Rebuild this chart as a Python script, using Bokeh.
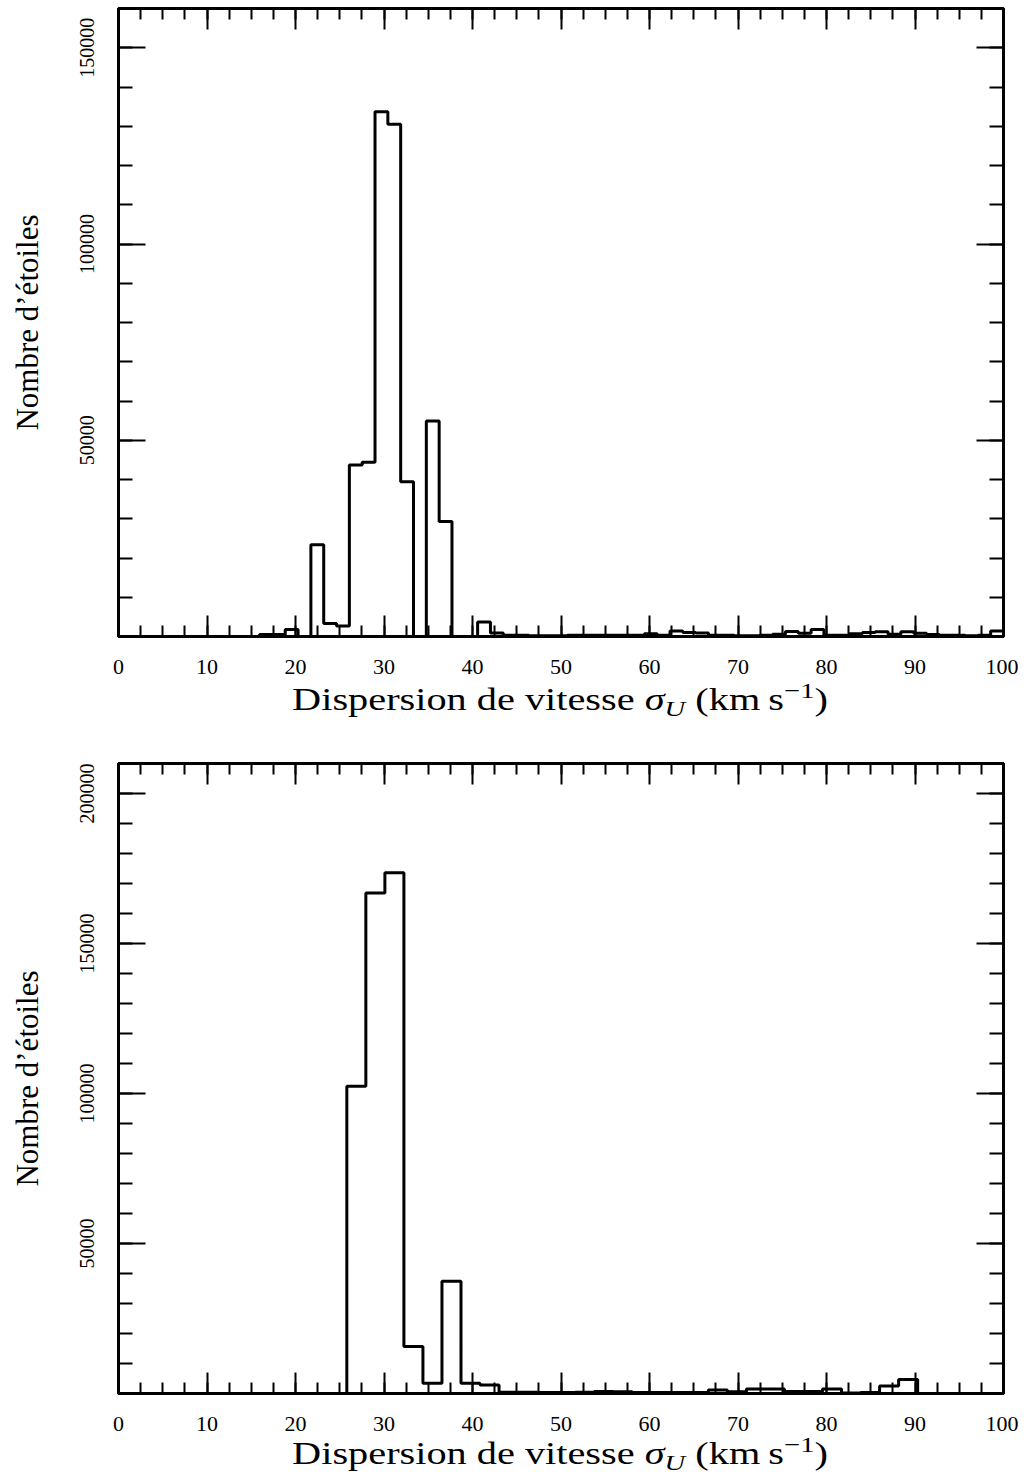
import numpy as np
from bokeh.plotting import figure
from bokeh.models import (LinearAxis, FixedTicker, BasicTickFormatter,
                          Range1d, CustomJSTickFormatter, Div)
from bokeh.layouts import column
from bokeh.embed import file_html
from bokeh.resources import INLINE

# ---------------- data ----------------
top_bin_lo, top_bin_hi, top_n_bins = 0.0, 100.0, 69
top_counts = [0, 0, 0, 0, 0, 0, 0, 0, 0, 0,
              0, 500, 500, 1800, 0, 23400, 3300, 2700, 43700, 44400,
              133700, 130500, 39400, 0, 54900, 29300, 0, 0, 3700, 900,
              300, 300, 200, 200, 200, 300, 300, 300, 300, 300,
              300, 700, 300, 1400, 1000, 900, 300, 300, 200, 200,
              300, 600, 1300, 800, 1800, 300, 300, 700, 1000, 1200,
              600, 1200, 800, 500, 300, 300, 200, 300, 1400]

bot_bin_lo, bot_bin_hi, bot_n_bins = 0.0, 101.05, 47
bot_counts = [0, 0, 0, 0, 0, 0, 0, 0, 0, 0,
              0, 0, 102400, 166800, 173600, 15700, 3400, 37400, 3400, 2800,
              400, 400, 300, 300, 400, 700, 600, 300, 300, 300,
              300, 1200, 600, 1500, 1500, 700, 700, 1500, 200, 300,
              2500, 4700, 0, 0, 0, 0, 0]

x_major_ticks = [0, 10, 20, 30, 40, 50, 60, 70, 80, 90, 100]
x_minor_step = 2.5
top_y_major_ticks = [50000, 100000, 150000]
bot_y_major_ticks = [50000, 100000, 150000, 200000]
y_minor_step = 10000
top_ymax = 160000
bot_ymax = 210000

y_label_text = "Nombre d’étoiles"
x_label_main = "Dispersion de vitesse"
x_label_sym = "σ"
x_label_sub = "U"
x_label_unit = "(km\u2009s"
x_label_sup = "−1"

FONT = "Liberation Serif"
W = 1018


def style_axis(ax, major_in, minor_in, labels=True, size="20px"):
    ax.major_tick_in = major_in
    ax.major_tick_out = 0
    ax.minor_tick_in = minor_in
    ax.minor_tick_out = 0
    ax.major_tick_line_width = 2
    ax.minor_tick_line_width = 2
    ax.major_tick_line_color = "black"
    ax.minor_tick_line_color = "black"
    ax.axis_line_width = 3
    ax.axis_line_color = "black"
    ax.major_label_text_font = FONT
    ax.major_label_text_color = "black"
    if not labels:
        ax.formatter = CustomJSTickFormatter(code="return ''")
        ax.major_label_text_font_size = "0px"
        ax.major_label_standoff = 0
    else:
        ax.major_label_text_font_size = size


def make_fig(counts, lo, hi, nb, ymax, ymaj, btop, frame_h, bbot):
    p = figure(width=W, height=btop + frame_h + bbot,
               x_range=Range1d(0, 100), y_range=Range1d(0, ymax),
               output_backend="svg", toolbar_location=None,
               x_axis_type=None, y_axis_type=None,
               min_border_left=118, min_border_right=15,
               min_border_top=btop, min_border_bottom=bbot)
    p.outline_line_color = "black"
    p.outline_line_width = 3
    p.background_fill_color = "white"
    p.border_fill_color = "white"

    xmin = list(np.arange(0, 100.001, x_minor_step))
    ymin = list(np.arange(0, ymax, y_minor_step))
    xt = FixedTicker(ticks=x_major_ticks, minor_ticks=xmin)
    yt = FixedTicker(ticks=ymaj, minor_ticks=ymin)

    below = LinearAxis(ticker=xt)
    style_axis(below, 21, 11, size="22px")
    below.major_label_standoff = 23
    p.add_layout(below, "below")

    above = LinearAxis(ticker=xt)
    style_axis(above, 21, 11, labels=False)
    p.add_layout(above, "above")

    left = LinearAxis(ticker=yt, formatter=BasicTickFormatter(use_scientific=False))
    style_axis(left, 27, 14, size="20px")
    left.major_label_orientation = "vertical"
    left.major_label_standoff = 25
    left.axis_label = y_label_text
    left.axis_label_text_font = FONT
    left.axis_label_text_font_style = "normal"
    left.axis_label_text_font_size = "31px"
    left.axis_label_text_color = "black"
    left.axis_label_standoff = 32
    p.add_layout(left, "left")

    right = LinearAxis(ticker=yt)
    style_axis(right, 27, 14, labels=False)
    p.add_layout(right, "right")

    edges = np.linspace(lo, hi, nb + 1)
    ys = list(counts) + [0]
    p.step(x=edges, y=ys, mode="after", line_color="black", line_width=3)
    return p


def make_xlabel(height, top):
    html = (
        f'<div style="position:relative;width:{W}px;height:{height}px;">'
        f'<div style="position:absolute;left:560px;top:{top}px;white-space:nowrap;'
        f"font-family:'{FONT}';font-size:31px;line-height:31px;color:black;"
        'transform:translateX(-50%) scaleX(1.3);transform-origin:50% 50%;">'
        f'{x_label_main} <i>{x_label_sym}</i>'
        '<span style="font-size:22px;font-style:italic;position:relative;top:6px;">'
        f'{x_label_sub}</span> {x_label_unit}'
        '<span style="font-size:22px;position:relative;top:-12px;">'
        f'{x_label_sup}</span>)</div></div>'
    )
    return Div(text=html, width=W, height=height, margin=(0, 0, 0, 0))


p1 = make_fig(top_counts, top_bin_lo, top_bin_hi, top_n_bins, top_ymax,
              top_y_major_ticks, 8, 628, 48)
d1 = make_xlabel(36, 0)
p2 = make_fig(bot_counts, bot_bin_lo, bot_bin_hi, bot_n_bins, bot_ymax,
              bot_y_major_ticks, 43, 630, 48)
d2 = make_xlabel(33, -3)

layout = column(p1, d1, p2, d2, spacing=0)
open("out.html", "w").write(file_html(layout, INLINE))
